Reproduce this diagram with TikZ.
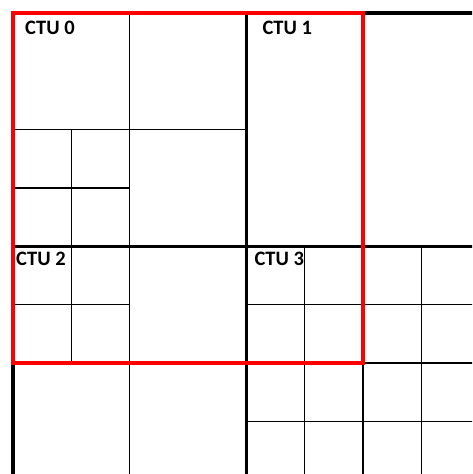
\documentclass[tikz,border=0pt]{standalone}
\usepackage{fontspec}
\setmainfont{Carlito}
\begin{document}
\begin{tikzpicture}[x=1pt, y=-1pt,
		cu/.style={line width=1.6pt, black},
		ctu/.style={line width=3.6pt, black},
		sel/.style={line width=3.8pt, red},
		lbl/.style={anchor=base west, inner sep=0pt, font=\fontsize{20.5}{21}\selectfont\bfseries}]
	\useasboundingbox (0,0) rectangle (472,474);
	\clip (0,0) rectangle (472,474);
	\begin{scope}[shift={(13pt,-13pt)}, x=58.33pt, y=-58.33pt]
		\coordinate (c0) at (0,0);
		\coordinate (c1) at (4,0);
		\coordinate (c2) at (0,4);
		\coordinate (c3) at (4,4);
		\draw[cu] (2,0) -- (2,8);
		\draw[cu] (0,2) -- (4,2);
		\draw[cu] (1,2) -- (1,6);
		\draw[cu] (0,3) -- (2,3);
		\draw[cu] (0,5) -- (2,5);
		\draw[cu] (0,6) -- (8,6);
		\draw[cu] (6,4) -- (6,8);
		\foreach \i in {5,7} {
			\draw[cu] (\i,4) -- (\i,8);
			\draw[cu] (4,\i) -- (8,\i);
		}
		\draw[ctu] (0,8) -- (0,0) -- (8,0);
		\draw[ctu] (4,0) -- (4,8);
		\draw[ctu] (0,4) -- (8,4);
		\draw[sel] (0,0) rectangle (6,6);
		\node[lbl] (l0) at ([shift={(12pt,-21pt)}]c0) {CTU 0};
		\node[lbl] (l1) at ([shift={(16pt,-21pt)}]c1) {CTU 1};
		\node[lbl] (l2) at ([shift={(3pt,-19.5pt)}]c2) {CTU 2};
		\node[lbl] (l3) at ([shift={(8pt,-19.5pt)}]c3) {CTU 3};
	\end{scope}
\end{tikzpicture}
\end{document}
